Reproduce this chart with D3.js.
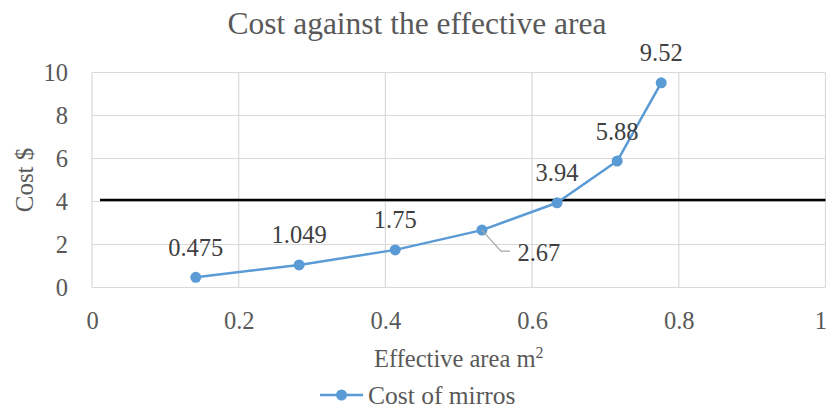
<!DOCTYPE html>
<html>
<head>
<meta charset="utf-8">
<script src="https://cdn.jsdelivr.net/npm/d3@7"></script>
<style>
  html, body { margin: 0; padding: 0; background: #fff; }
  svg { display: block; }
  svg text { font-family: "Liberation Serif", "Times New Roman", serif !important; }
</style>
</head>
<body>
<div id="chart"></div>
<script>
// ---- data ----
const areas = [0.1415, 0.2824, 0.4134, 0.5316, 0.634, 0.716, 0.776];
const costs = [0.475, 1.049, 1.75, 2.67, 3.94, 5.88, 9.52];
const costLabels = ["0.475", "1.049", "1.75", "2.67", "3.94", "5.88", "9.52"];
const refLineX = [0.011, 1];
const refLineY = [4.07, 4.07];
const xTicks = [0, 0.2, 0.4, 0.6, 0.8, 1];
const xTickLabels = ["0", "0.2", "0.4", "0.6", "0.8", "1"];
const yTicks = [0, 2, 4, 6, 8, 10];
const yTickLabels = ["0", "2", "4", "6", "8", "10"];
const titleText = "Cost against the effective area";
const xTitleText = "Effective area m";
const yTitleText = "Cost $";
const seriesName = "Cost of mirros";

// ---- layout ----
const W = 826, H = 408;
const plotL = 92, plotR = 825.5, plotT = 72.5, plotB = 287.5;
const blue = "#5B9BD5", grid = "#d9d9d9", textGray = "#595959", labelGray = "#404040";
const serif = '"Liberation Serif", "Times New Roman", serif';

const svg = d3.select("#chart").append("svg").attr("width", W).attr("height", H)
  .attr("font-family", serif);

const x = d3.scaleLinear().domain([0, 1]).range([plotL, plotR]);
const y = d3.scaleLinear().domain([0, 10]).range([plotB, plotT]);

// gridlines
svg.append("g").selectAll("line").data(yTicks).join("line")
  .attr("x1", plotL).attr("x2", plotR)
  .attr("y1", d => y(d)).attr("y2", d => y(d))
  .attr("stroke", grid).attr("stroke-width", 1.2);
svg.append("g").selectAll("line").data(xTicks).join("line")
  .attr("y1", plotT).attr("y2", plotB)
  .attr("x1", d => x(d)).attr("x2", d => x(d))
  .attr("stroke", grid).attr("stroke-width", 1.2);

// axes tick labels
const xAxis = d3.axisBottom(x).tickValues(xTicks).tickSize(0).tickPadding(0)
  .tickFormat((d, i) => xTickLabels[i]);
const gx = svg.append("g").attr("transform", `translate(0,${plotB})`).call(xAxis)
  .attr("font-family", serif);
gx.select(".domain").remove();
gx.selectAll("text").attr("dy", null).attr("y", 41)
  .attr("font-size", 24.5).attr("fill", textGray).attr("font-family", serif)
  .attr("text-anchor", (d, i) => i === xTicks.length - 1 ? "end" : "middle")
  .attr("dx", (d, i) => i === xTicks.length - 1 ? 1 : 0);

const yAxis = d3.axisLeft(y).tickValues(yTicks).tickSize(0).tickPadding(0)
  .tickFormat((d, i) => yTickLabels[i]);
const gy = svg.append("g").attr("transform", `translate(${plotL},0)`).call(yAxis)
  .attr("font-family", serif);
gy.select(".domain").remove();
gy.selectAll("text").attr("dy", "0.33em").attr("x", -24)
  .attr("font-size", 24.5).attr("fill", textGray).attr("font-family", serif);

// reference black line
const refData = refLineX.map((v, i) => [v, refLineY[i]]);
svg.append("path").datum(refData)
  .attr("d", d3.line().x(d => x(d[0])).y(d => y(d[1])))
  .attr("stroke", "#000").attr("stroke-width", 2.6).attr("fill", "none");

// series
const pts = areas.map((a, i) => ({ a, c: costs[i], label: costLabels[i] }));
svg.append("path").datum(pts)
  .attr("d", d3.line().x(d => x(d.a)).y(d => y(d.c)))
  .attr("stroke", blue).attr("stroke-width", 2.5).attr("fill", "none")
  .attr("stroke-linejoin", "round");
svg.append("g").selectAll("circle").data(pts).join("circle")
  .attr("cx", d => x(d.a)).attr("cy", d => y(d.c)).attr("r", 5.5)
  .attr("fill", blue);

// data labels
const special = 3; // label for 2.67 placed below-right with a leader line
const p3 = pts[special];
svg.append("polyline")
  .attr("points", [[x(p3.a), y(p3.c)], [x(p3.a) + 19, y(p3.c) + 21], [x(p3.a) + 28, y(p3.c) + 21]].map(p => p.join(",")).join(" "))
  .attr("fill", "none").attr("stroke", "#a6a6a6").attr("stroke-width", 1.2);

svg.append("g").selectAll("text").data(pts).join("text")
  .attr("x", (d, i) => i === special ? x(d.a) + 57 : x(d.a))
  .attr("y", (d, i) => i === special ? y(d.c) + 30.5 : y(d.c) - 21.5)
  .attr("text-anchor", "middle").attr("font-family", serif)
  .attr("font-size", 24.5).attr("fill", labelGray)
  .text(d => d.label);

// title
svg.append("text").attr("x", 417).attr("y", 33.5).attr("text-anchor", "middle")
  .attr("font-family", serif)
  .attr("font-size", 31.5).attr("fill", textGray).text(titleText);

// x title with superscript
const xt = svg.append("text").attr("x", (plotL + plotR) / 2).attr("y", 366.5)
  .attr("font-family", serif)
  .attr("text-anchor", "middle").attr("font-size", 24.5).attr("fill", textGray);
xt.append("tspan").text(xTitleText);
xt.append("tspan").attr("font-size", 16).attr("dy", -9).text("2");

// y title
svg.append("text").attr("transform", "translate(33,180) rotate(-90)")
  .attr("font-family", serif)
  .attr("text-anchor", "middle").attr("font-size", 25).attr("fill", textGray)
  .text(yTitleText);

// legend
const lg = svg.append("g");
lg.append("line").attr("x1", 320).attr("x2", 363).attr("y1", 395).attr("y2", 395)
  .attr("stroke", blue).attr("stroke-width", 2.5);
lg.append("circle").attr("cx", 341.5).attr("cy", 395).attr("r", 5.5).attr("fill", blue);
lg.append("text").attr("x", 368).attr("y", 403.5).attr("font-size", 25.5)
  .attr("font-family", serif)
  .attr("fill", textGray).text(seriesName);
</script>
</body>
</html>
